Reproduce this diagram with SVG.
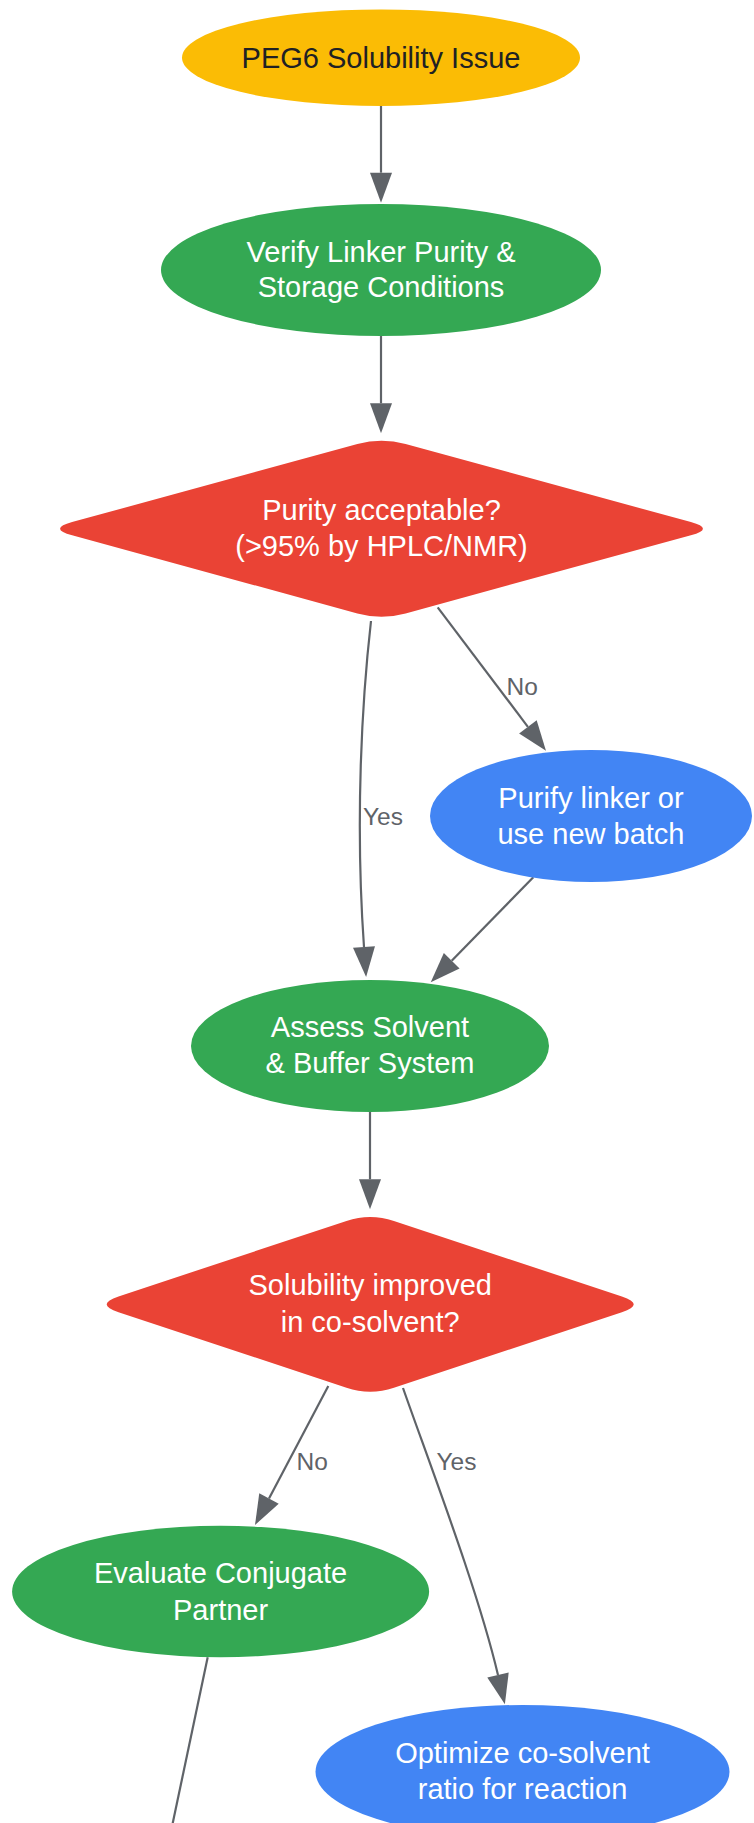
<svg xmlns="http://www.w3.org/2000/svg" width="754" height="1823" viewBox="0 0 754 1823">
<style>
  .t { font-family: "Liberation Sans", Arial, sans-serif; font-size: 29px; text-anchor: middle; fill: #ffffff; }
  .dark { fill: #202124; }
  .lbl { font-family: "Liberation Sans", Arial, sans-serif; font-size: 24.5px; fill: #5f6368; }
  .e { fill: none; stroke: #5f6368; stroke-width: 2.2; marker-end: url(#ah); }
  .en { fill: none; stroke: #5f6368; stroke-width: 2.2; }
</style>
<defs>
  <marker id="ah" markerWidth="30" markerHeight="22" refX="0" refY="11" orient="auto" markerUnits="userSpaceOnUse" overflow="visible">
    <path d="M0,0 L30,11 L0,22 Z" fill="#5f6368"/>
  </marker>
</defs>
<rect width="754" height="1823" fill="#ffffff"/>

<g id="connectors">
  <path class="e" d="M381,106 L381,172.7"/>
  <path class="e" d="M381,336 L381,403.3"/>
  <path class="e" d="M437.7,607.3 L527.9,726.8"/>
  <path class="e" d="M371,621 C362,700 355,820 364,947"/>
  <path class="e" d="M533.3,877.3 L451.7,960.8"/>
  <path class="e" d="M370,1112 L370,1179.3"/>
  <path class="e" d="M328.3,1386 L269,1498.5"/>
  <path class="e" d="M403,1388 C430,1465 478,1590 498,1675"/>
  <path class="en" d="M207.7,1657.3 L170,1836"/>
  <text class="lbl" x="506.5" y="695">No</text>
  <text class="lbl" x="363" y="824.5">Yes</text>
  <text class="lbl" x="296.5" y="1470">No</text>
  <text class="lbl" x="436.5" y="1470">Yes</text>
</g>

<g id="peg6">
  <ellipse cx="381" cy="57.7" rx="199" ry="48.3" fill="#fbbc05"/>
  <text class="t dark" x="381" y="67.7">PEG6 Solubility Issue</text>
</g>

<g id="verify">
  <ellipse cx="381" cy="270" rx="220" ry="66" fill="#34a853"/>
  <text class="t" x="381" y="261.7">Verify Linker Purity &amp;</text>
  <text class="t" x="381" y="296.7">Storage Conditions</text>
</g>

<g id="purity">
  <path d="M72.11,522.1 L357.39,444 Q381.5,437.4 405.61,444 L690.89,522.1 Q715,528.7 690.89,535.3 L405.61,613.4 Q381.5,620 357.39,613.4 L72.11,535.3 Q48,528.7 72.11,522.1 Z" fill="#ea4335"/>
  <text class="t" x="381.5" y="520">Purity acceptable?</text>
  <text class="t" x="381.5" y="555.5">(&gt;95% by HPLC/NMR)</text>
</g>

<g id="purify">
  <ellipse cx="591" cy="816" rx="161" ry="66" fill="#4285f4"/>
  <text class="t" x="591" y="807.7">Purify linker or</text>
  <text class="t" x="591" y="844">use new batch</text>
</g>

<g id="assess">
  <ellipse cx="370" cy="1046" rx="179" ry="66" fill="#34a853"/>
  <text class="t" x="370" y="1037">Assess Solvent</text>
  <text class="t" x="370" y="1073">&amp; Buffer System</text>
</g>

<g id="solubility">
  <path d="M118.53,1296.44 L346.47,1220.96 Q370.2,1213.1 393.93,1220.96 L621.87,1296.44 Q645.6,1304.3 621.87,1312.16 L393.93,1387.74 Q370.2,1395.6 346.47,1387.74 L118.53,1312.16 Q94.8,1304.3 118.53,1296.44 Z" fill="#ea4335"/>
  <text class="t" x="370.2" y="1295">Solubility improved</text>
  <text class="t" x="370.2" y="1331.7">in co-solvent?</text>
</g>

<g id="evaluate">
  <ellipse cx="220.6" cy="1591.5" rx="208.5" ry="65.7" fill="#34a853"/>
  <text class="t" x="220.6" y="1583">Evaluate Conjugate</text>
  <text class="t" x="220.6" y="1620">Partner</text>
</g>

<g id="optimize">
  <ellipse cx="522.5" cy="1771.7" rx="207" ry="66.7" fill="#4285f4"/>
  <text class="t" x="522.5" y="1763.3">Optimize co-solvent</text>
  <text class="t" x="522.5" y="1799">ratio for reaction</text>
</g>
</svg>
